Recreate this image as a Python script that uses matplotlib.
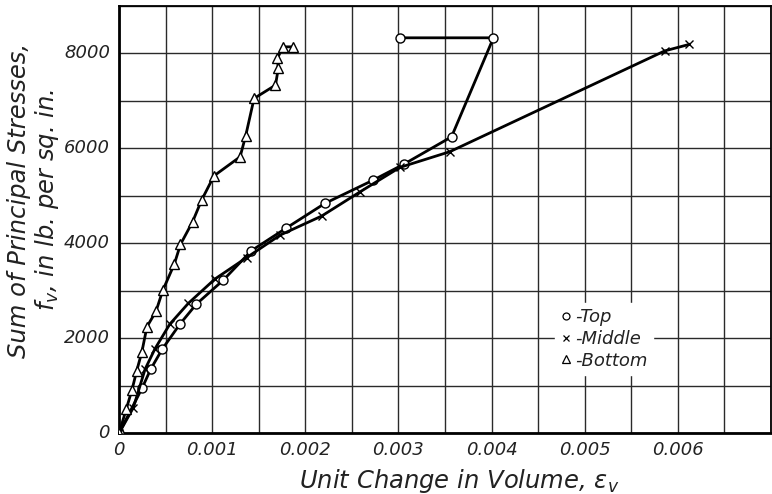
import matplotlib
matplotlib.use("Agg")
import matplotlib.pyplot as plt
from matplotlib.lines import Line2D
import numpy as np

# Data
top_x = [0, 0.00025, 0.00034, 0.000465, 0.000654, 0.00083, 0.00112, 0.00142,
         0.00179, 0.00221, 0.00273, 0.00306, 0.00357, 0.00402, 0.003015]
top_y = [0, 960, 1350, 1775, 2300, 2720, 3227, 3844,
         4316, 4842, 5333, 5670, 6244, 8330, 8330]

mid_x = [0, 0.000154, 0.00028, 0.000386, 0.000545, 0.000744, 0.00103, 0.00137,
         0.00173, 0.002175, 0.00259, 0.003015, 0.00355, 0.00586, 0.00612]
mid_y = [0, 540, 1350, 1780, 2298, 2737, 3250, 3700,
         4175, 4575, 5088, 5600, 5930, 8055, 8190]

bot_x = [0, 0.000078, 0.00014, 0.00019, 0.000246, 0.0003, 0.000397, 0.00047,
         0.000594, 0.00066, 0.00079, 0.000887, 0.00102, 0.0013, 0.00136,
         0.00145, 0.00168, 0.00171, 0.0017, 0.00176, 0.00187]
bot_y = [0, 510, 920, 1315, 1718, 2244, 2568, 3010, 3564, 3979, 4455, 4912,
         5423, 5823, 6265, 7053, 7333, 7684, 7895, 8140, 8140]

x_ticks = [0, 0.001, 0.002, 0.003, 0.004, 0.005, 0.006]
x_ticklabels = ["0", "0.001", "0.002", "0.003", "0.004", "0.005", "0.006"]
y_ticks = [0, 2000, 4000, 6000, 8000]
y_ticklabels = ["0", "2000", "4000", "6000", "8000"]
legend_labels = ["-Top", "-Middle", "-Bottom"]

plt.rcParams['font.family'] = ['DejaVu Sans']
W, H = 772, 494
fig = plt.figure(figsize=(W/100, H/100), dpi=100)
ax = fig.add_axes([119/W, 1-433.3/H, (771-119)/W, (433.3-6)/H])

ax.set_xlim(0, 0.007)
ax.set_ylim(0, 9000)
ax.set_xticks(np.arange(0, 0.00701, 0.0005))
ax.set_yticks(np.arange(0, 9001, 1000))
ax.grid(True, color='#2a2a2a', linewidth=1.0)
ax.set_axisbelow(True)
ax.tick_params(length=0, labelbottom=False, labelleft=False)

for s in ['left', 'bottom']:
    ax.spines[s].set_linewidth(2.0)
for s in ['top', 'right']:
    ax.spines[s].set_linewidth(1.3)

lw = 2.0
ax.plot(top_x, top_y, color='black', lw=lw, marker='o', ms=6.5,
        mfc='white', mec='black', mew=1.0, zorder=3)
ax.plot(mid_x, mid_y, color='black', lw=lw, marker='x', ms=6,
        mec='black', mew=1.0, zorder=3)
ax.plot(bot_x, bot_y, color='black', lw=lw, marker='^', ms=7,
        mfc='white', mec='black', mew=1.0, zorder=3)

def px2x(p):
    return (p - 119) / 93.2 * 0.001

def px2y(p):
    return (433.3 - p) / 47.5 * 1000

tfont = dict(style='italic', fontsize=13, color='#222222')
for xv, lab in zip(x_ticks, x_ticklabels):
    ax.text(xv, px2y(441), lab, ha='center', va='top', **tfont)
for yv, lab in zip(y_ticks, y_ticklabels):
    ax.text(px2x(110), yv, lab, ha='right', va='center', **tfont)

ax.text(0.0035 + px2x(119 + 14), px2y(488), "Unit Change in Volume, $\\epsilon_v$",
        ha='center', va='baseline', style='italic', fontsize=17.5, color='#222222')
fig.text(34/W, 1-200/H, "Sum of Principal Stresses,\n$f_v$, in lb. per sq. in.",
         ha='center', va='center', rotation=90, style='italic', fontsize=17.5,
         color='#222222', linespacing=1.05)

handles = [Line2D([], [], ls='none', marker='o', ms=5, mfc='white', mec='black', mew=0.9),
           Line2D([], [], ls='none', marker='x', ms=5, mec='black', mew=0.9),
           Line2D([], [], ls='none', marker='^', ms=5.5, mfc='white', mec='black', mew=0.9)]
leg = ax.legend(handles, legend_labels, loc='center left',
                bbox_to_anchor=(0.655, 0.2207), frameon=True, fancybox=False,
                facecolor='white', edgecolor='white', framealpha=1.0,
                handlelength=0.6, handletextpad=0.2, labelspacing=0.2,
                borderpad=0.3, prop=dict(style='italic', size=13))
for t in leg.get_texts():
    t.set_color('#222222')

fig.savefig("out.png", dpi=100)
